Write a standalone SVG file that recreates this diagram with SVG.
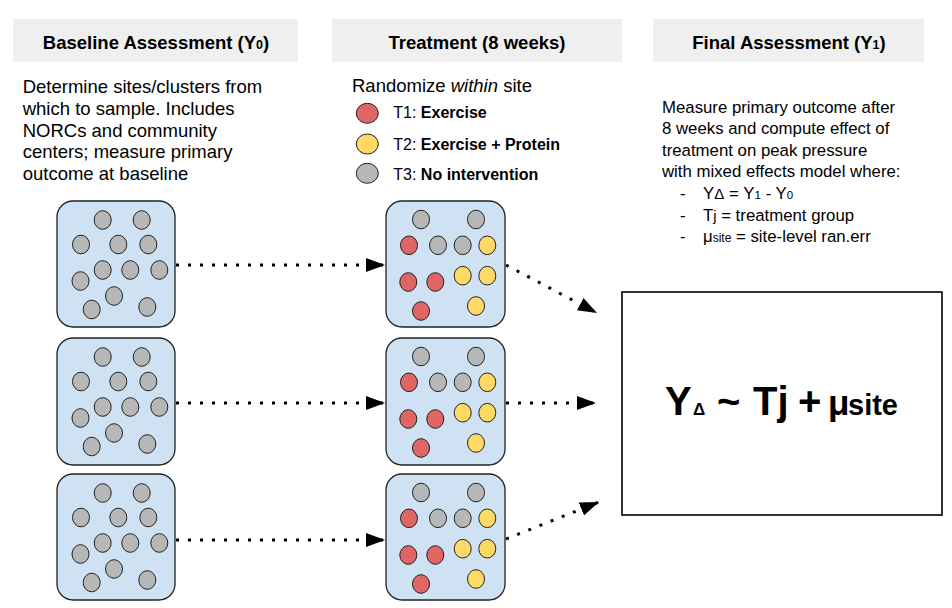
<svg xmlns="http://www.w3.org/2000/svg" width="952" height="608" viewBox="0 0 952 608">
<style>
text{font-family:"Liberation Sans",Arial,sans-serif;fill:#000}
.hdr{fill:#efefef}
.ht{font-size:18.5px;font-weight:bold;text-anchor:middle}
.body{font-size:18.5px}
.rbody{font-size:16.8px}
.leg{font-size:16px}
.site{fill:#cfe2f3;stroke:#222;stroke-width:1.3}
.g{fill:#b7b7b7;stroke:#222;stroke-width:1}
.r{fill:#e06666;stroke:#222;stroke-width:1}
.y{fill:#ffd966;stroke:#222;stroke-width:1}
.conn{fill:none;stroke:#000;stroke-width:3;stroke-dasharray:3 9;marker-end:url(#ah)}
.final{fill:#fff;stroke:#000;stroke-width:1.6}
.fx{font-size:40px;font-weight:bold}
</style>
<defs>
<marker id="ah" markerUnits="userSpaceOnUse" markerWidth="20" markerHeight="16" viewBox="0 0 20 16" refX="19" refY="8" orient="auto">
<path d="M0,1 L19,8 L0,15 z" fill="#000" stroke="none"/>
</marker>
<g id="baseDots">
<ellipse class="g" cx="45.7" cy="19" rx="8.5" ry="9.3"/>
<ellipse class="g" cx="84.7" cy="19" rx="8.5" ry="9.3"/>
<ellipse class="g" cx="24" cy="43.5" rx="8.5" ry="9.3"/>
<ellipse class="g" cx="61.3" cy="43.5" rx="8.5" ry="9.3"/>
<ellipse class="g" cx="91.3" cy="43.5" rx="8.5" ry="9.3"/>
<ellipse class="g" cx="45.7" cy="69" rx="8.5" ry="9.3"/>
<ellipse class="g" cx="73.3" cy="69" rx="8.5" ry="9.3"/>
<ellipse class="g" cx="102.3" cy="69" rx="8.5" ry="9.3"/>
<ellipse class="g" cx="23.5" cy="80" rx="8.5" ry="9.3"/>
<ellipse class="g" cx="57" cy="95" rx="8.5" ry="9.3"/>
<ellipse class="g" cx="34.7" cy="108.5" rx="8.5" ry="9.3"/>
<ellipse class="g" cx="90.3" cy="106" rx="8.5" ry="9.3"/>
</g>
<g id="treatDots">
<ellipse class="g" cx="35" cy="18.5" rx="8.5" ry="9.3"/>
<ellipse class="g" cx="90" cy="18.5" rx="8.5" ry="9.3"/>
<ellipse class="r" cx="23" cy="44.3" rx="8.5" ry="9.3"/>
<ellipse class="g" cx="52" cy="44.3" rx="8.5" ry="9.3"/>
<ellipse class="g" cx="76.7" cy="44.3" rx="8.5" ry="9.3"/>
<ellipse class="y" cx="101.3" cy="44.3" rx="8.5" ry="9.3"/>
<ellipse class="r" cx="22.3" cy="81" rx="8.5" ry="9.3"/>
<ellipse class="r" cx="49.3" cy="81" rx="8.5" ry="9.3"/>
<ellipse class="y" cx="76.7" cy="74.7" rx="8.5" ry="9.3"/>
<ellipse class="y" cx="101.3" cy="74.7" rx="8.5" ry="9.3"/>
<ellipse class="r" cx="35" cy="110" rx="8.5" ry="9.3"/>
<ellipse class="y" cx="90" cy="105" rx="8.5" ry="9.3"/>
</g>
</defs>

<g id="header-baseline">
<rect class="hdr" x="13" y="19" width="285" height="43"/>
<text class="ht" x="156" y="49">Baseline Assessment (Y<tspan font-size="12.5px">0</tspan>)</text>
</g>
<g id="header-treatment">
<rect class="hdr" x="332" y="19" width="290" height="43"/>
<text class="ht" x="477" y="49">Treatment (8 weeks)</text>
</g>
<g id="header-final">
<rect class="hdr" x="653" y="19" width="271" height="43"/>
<text class="ht" x="789" y="49">Final Assessment (Y<tspan font-size="12.5px">1</tspan>)</text>
</g>

<g id="text-baseline">
<text class="body" x="22.7" y="93.3">Determine sites/clusters from</text>
<text class="body" x="22.7" y="115">which to sample. Includes</text>
<text class="body" x="22.7" y="136.7">NORCs and community</text>
<text class="body" x="22.7" y="158.3">centers; measure primary</text>
<text class="body" x="22.7" y="180">outcome at baseline</text>
</g>

<g id="legend">
<text class="body" x="352" y="92">Randomize <tspan font-style="italic">within</tspan> site</text>
<ellipse class="r" cx="367.3" cy="113.3" rx="11" ry="10"/>
<text class="leg" x="393.3" y="118">T1: <tspan font-weight="bold">Exercise</tspan></text>
<ellipse class="y" cx="367.3" cy="144" rx="11" ry="10"/>
<text class="leg" x="393.3" y="149.5">T2: <tspan font-weight="bold">Exercise + Protein</tspan></text>
<ellipse class="g" cx="367.3" cy="173.3" rx="11" ry="10"/>
<text class="leg" x="393.3" y="179.5">T3: <tspan font-weight="bold">No intervention</tspan></text>
</g>

<g id="text-final">
<text class="rbody" x="662" y="112.5">Measure primary outcome after</text>
<text class="rbody" x="662" y="134.1">8 weeks and compute effect of</text>
<text class="rbody" x="662" y="155.7">treatment on peak pressure</text>
<text class="rbody" x="662" y="177.3">with mixed effects model where:</text>
<text class="rbody" x="680" y="198.9">-</text>
<text class="rbody" x="703" y="198.9">Y<tspan font-size="15px">Δ</tspan> = Y<tspan font-size="11.5px">1</tspan> - Y<tspan font-size="11.5px">0</tspan></text>
<text class="rbody" x="680" y="220.5">-</text>
<text class="rbody" x="703" y="220.5">T<tspan font-size="14.5px">j</tspan> = treatment group</text>
<text class="rbody" x="680" y="242.1">-</text>
<text class="rbody" x="703" y="242.1">μ<tspan font-size="12px">site</tspan> = site-level ran.err</text>
</g>

<g id="site-base-1">
<rect class="site" x="57" y="201" width="118" height="126" rx="16"/>
<use href="#baseDots" x="57" y="201"/>
</g>
<g id="site-base-2">
<rect class="site" x="57" y="338" width="118" height="127" rx="16"/>
<use href="#baseDots" x="57" y="338"/>
</g>
<g id="site-base-3">
<rect class="site" x="57" y="474" width="118" height="126" rx="16"/>
<use href="#baseDots" x="57" y="474"/>
</g>

<g id="site-treat-1">
<rect class="site" x="386" y="201" width="119" height="126" rx="16"/>
<use href="#treatDots" x="386" y="201"/>
</g>
<g id="site-treat-2">
<rect class="site" x="386" y="338" width="119" height="127" rx="16"/>
<use href="#treatDots" x="386" y="338"/>
</g>
<g id="site-treat-3">
<rect class="site" x="386" y="474" width="119" height="126" rx="16"/>
<use href="#treatDots" x="386" y="474"/>
</g>

<g id="model-box">
<rect class="final" x="622" y="292" width="320" height="223"/>
<text class="fx" y="415"><tspan x="665">Y</tspan><tspan x="693" font-size="17px">Δ</tspan><tspan x="717">~</tspan><tspan x="753">Tj</tspan><tspan x="798">+</tspan><tspan x="828" font-size="35px">μ</tspan><tspan x="848" font-size="29px">site</tspan></text>
</g>

<g id="connectors">
<path class="conn" d="M176,265 L385,265"/>
<path class="conn" d="M176,403 L385,403"/>
<path class="conn" d="M176,540 L385,540"/>
<path class="conn" d="M506,265 L597,313"/>
<path class="conn" d="M506,403 L596,403"/>
<path class="conn" d="M506,539 L599,502"/>
</g>
</svg>
